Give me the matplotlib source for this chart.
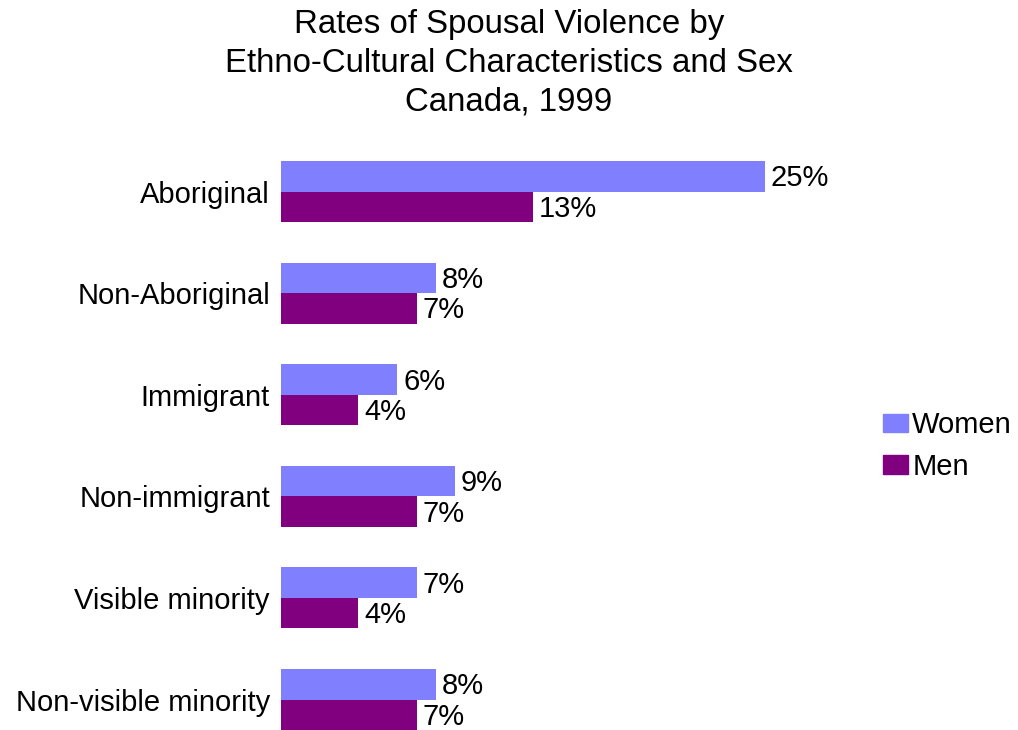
import matplotlib
matplotlib.use("Agg")
import matplotlib.pyplot as plt
from matplotlib.patches import Patch

categories = ["Aboriginal", "Non-Aboriginal", "Immigrant", "Non-immigrant",
              "Visible minority", "Non-visible minority"]
women = [25, 8, 6, 9, 7, 8]
men = [13, 7, 4, 7, 4, 7]

WOMEN_COLOR = "#8080FF"
MEN_COLOR = "#800080"

plt.rcParams["font.family"] = ["Liberation Sans", "DejaVu Sans"]

fig = plt.figure(figsize=(10.18, 7.30), dpi=100)
ax = fig.add_axes([281 / 1018, 0.0, 581 / 1018, 589.3 / 730])

y = list(range(len(categories)))
h = 0.3
ax.barh([i - h / 2 for i in y], women, height=h, color=WOMEN_COLOR)
ax.barh([i + h / 2 for i in y], men, height=h, color=MEN_COLOR)

for i in y:
    ax.text(women[i] + 0.3, i - h / 2 + 0.02, f"{women[i]}%", va="center", ha="left", fontsize=21)
    ax.text(men[i] + 0.3, i + h / 2 + 0.02, f"{men[i]}%", va="center", ha="left", fontsize=21)

ax.set_xlim(0, 30)
ax.set_ylim(5.3, -0.5)
ax.set_yticks(y)
ax.set_yticklabels(categories, fontsize=21)
ax.tick_params(axis="y", length=0, pad=8)
ax.set_xticks([])
for s in ax.spines.values():
    s.set_visible(False)

fig.text(0.5, 1 - 9 / 730, "Rates of Spousal Violence by\nEthno-Cultural Characteristics and Sex\nCanada, 1999",
         ha="center", va="top", fontsize=23.8, linespacing=1.33)

handles = [Patch(color=WOMEN_COLOR, label="Women"), Patch(color=MEN_COLOR, label="Men")]
fig.legend(handles=handles, loc="center left", bbox_to_anchor=(883 / 1018, 0.389), frameon=False,
           borderpad=0, borderaxespad=0, fontsize=21, handlelength=0.85, handleheight=0.6,
           handletextpad=0.15, labelspacing=0.45)

fig.savefig("out.png", dpi=100)
